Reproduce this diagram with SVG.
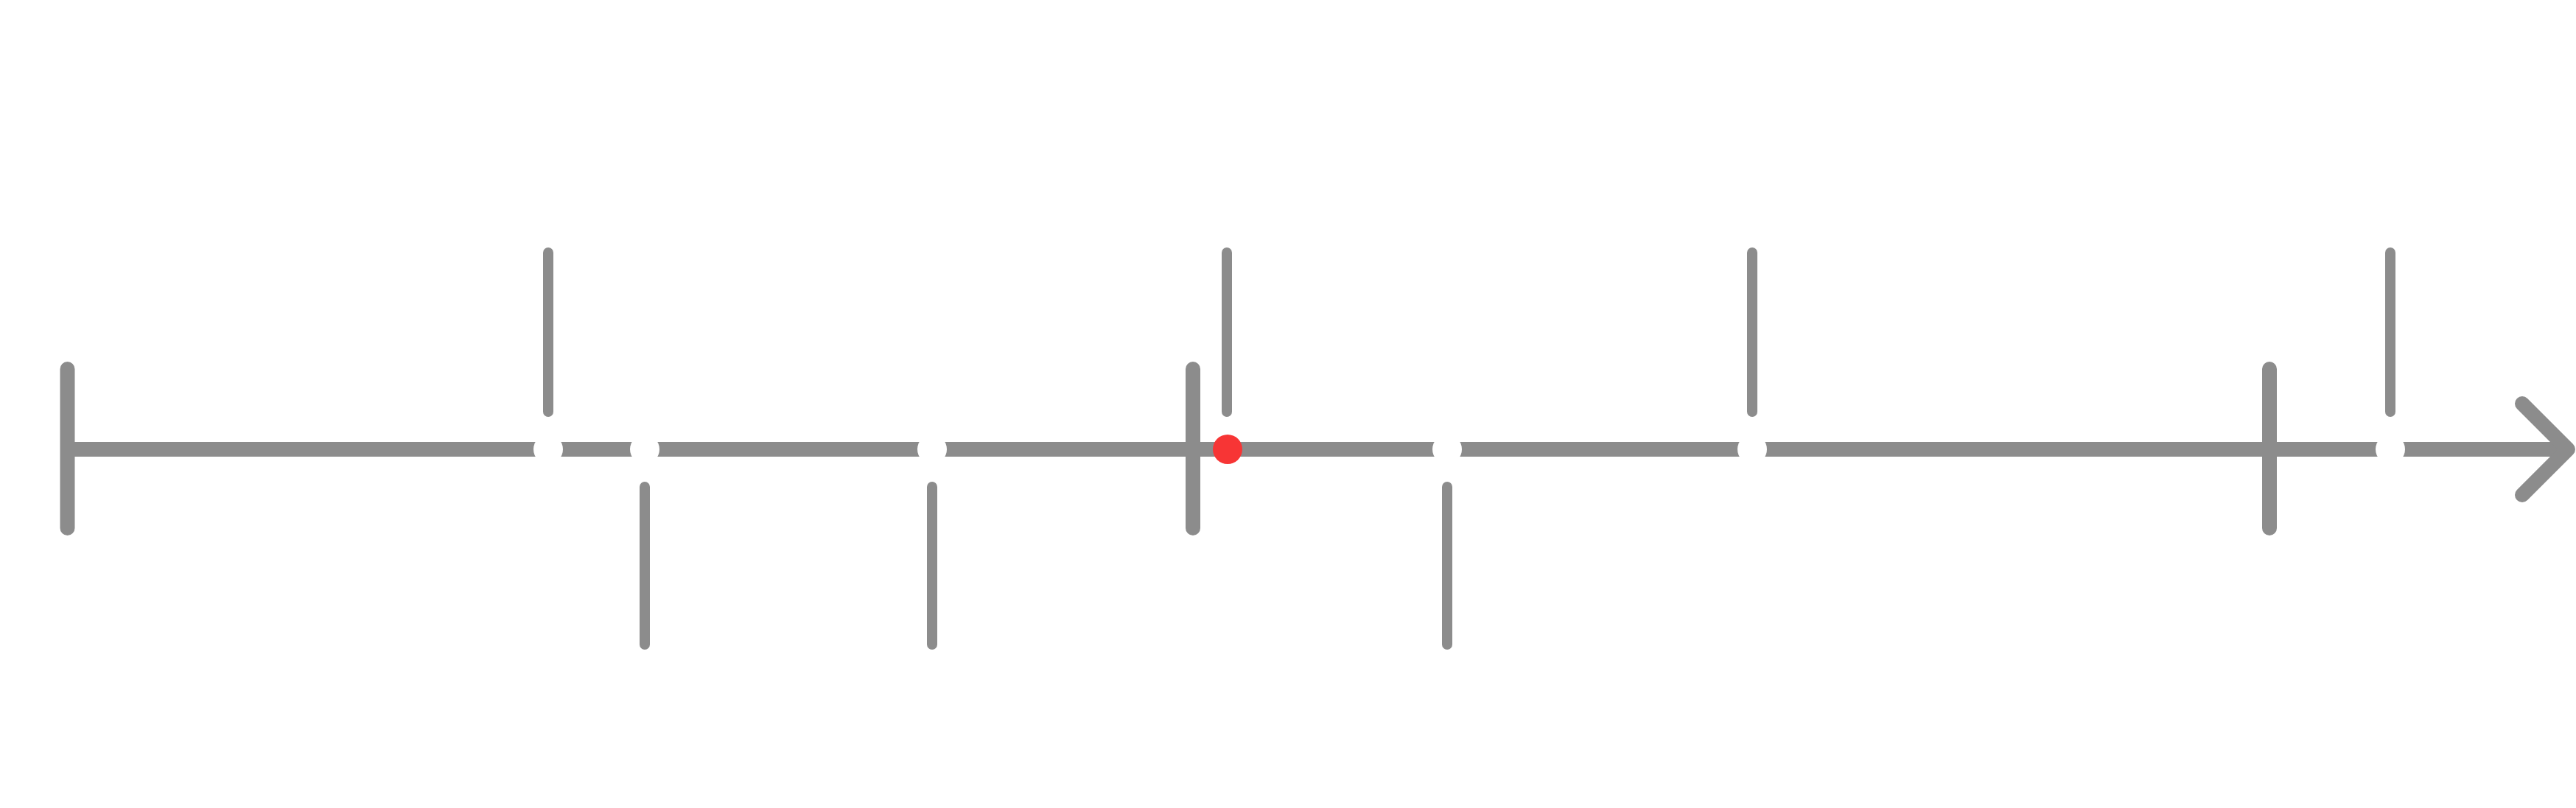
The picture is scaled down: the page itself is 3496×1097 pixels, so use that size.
<svg xmlns="http://www.w3.org/2000/svg" width="3496" height="1097" viewBox="0 0 3496 1097">
  <style>
    .axis { stroke: #8c8c8c; stroke-width: 20; fill: none; stroke-linecap: butt; }
    .head { stroke: #8c8c8c; stroke-width: 20; fill: none; stroke-linecap: round; stroke-linejoin: round; }
    .bar { stroke: #8c8c8c; stroke-width: 20; stroke-linecap: round; fill: none; }
    .tick { stroke: #8c8c8c; stroke-width: 14; stroke-linecap: round; fill: none; }
    .gap { fill: #ffffff; }
    .marker { fill: #f73535; }
  </style>
  <rect x="0" y="0" width="3496" height="1097" fill="#ffffff"/>
  <g id="connectors">
    <line class="axis" x1="91.5" y1="610" x2="3484" y2="610"/>
    <path class="head" d="M3423,548 L3485,610 L3423,672"/>
  </g>
  <g id="bar-start"><line class="bar" x1="91.5" y1="501" x2="91.5" y2="717"/></g>
  <g id="bar-middle"><line class="bar" x1="1619" y1="501" x2="1619" y2="717"/></g>
  <g id="bar-end"><line class="bar" x1="3080" y1="501" x2="3080" y2="717"/></g>
  <g id="tick-1"><circle class="gap" cx="744" cy="610" r="20"/><line class="tick" x1="744" y1="343" x2="744" y2="559"/></g>
  <g id="tick-2"><circle class="gap" cx="875" cy="610" r="20"/><line class="tick" x1="875" y1="661" x2="875" y2="875"/></g>
  <g id="tick-3"><circle class="gap" cx="1265" cy="610" r="20"/><line class="tick" x1="1265" y1="661" x2="1265" y2="875"/></g>
  <g id="tick-4"><circle class="marker" cx="1666" cy="610" r="20"/><line class="tick" x1="1665" y1="343" x2="1665" y2="559"/></g>
  <g id="tick-5"><circle class="gap" cx="1964" cy="610" r="20"/><line class="tick" x1="1964" y1="661" x2="1964" y2="875"/></g>
  <g id="tick-6"><circle class="gap" cx="2378" cy="610" r="20"/><line class="tick" x1="2378" y1="343" x2="2378" y2="559"/></g>
  <g id="tick-7"><circle class="gap" cx="3244" cy="610" r="20"/><line class="tick" x1="3244" y1="343" x2="3244" y2="559"/></g>
</svg>
